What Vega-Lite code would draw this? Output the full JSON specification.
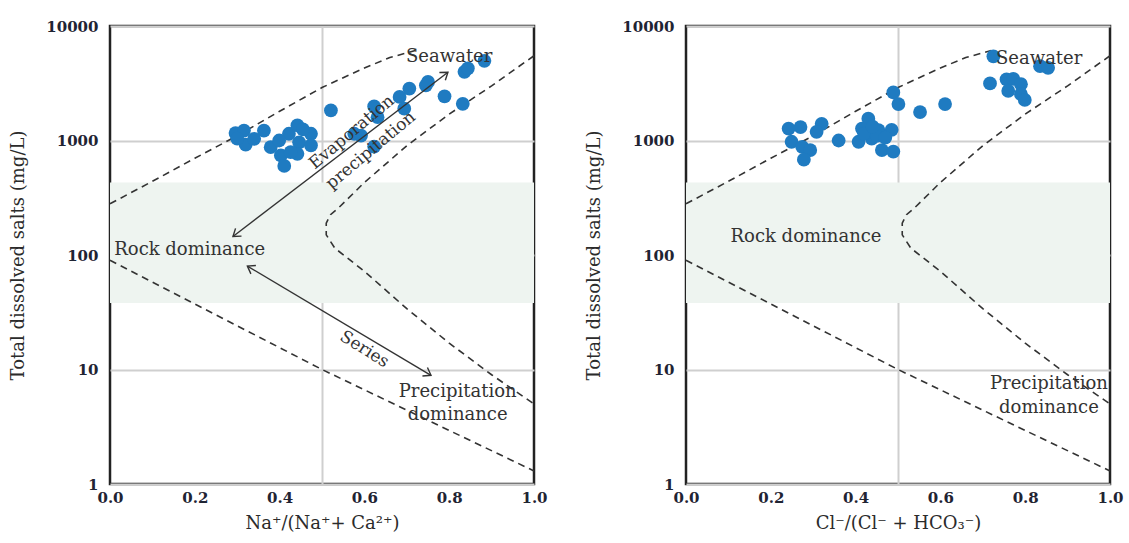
{
  "$schema": "https://vega.github.io/schema/vega-lite/v6.json",
  "background": "white",
  "padding": {"left": 8, "top": 17, "right": 5, "bottom": 5},
  "spacing": 152,
  "bounds": "flush",
  "config": {
    "font": "DejaVu Serif",
    "view": {"stroke": "#222222", "strokeWidth": 2.5},
    "axis": {
      "ticks": false,
      "domain": false,
      "grid": true,
      "gridColor": "#cfcfcf",
      "gridWidth": 2,
      "labelFont": "DejaVu Serif",
      "labelFontWeight": "bold",
      "labelFontSize": 15,
      "labelColor": "#1f2433",
      "titleFont": "DejaVu Serif",
      "titleFontWeight": "normal",
      "titleFontSize": 18,
      "titleColor": "#2b2b2b",
      "labelOverlap": false,
      "labelFlush": false
    },
    "axisX": {"labelPadding": 6, "titlePadding": 9},
    "axisY": {"labelPadding": 12, "titlePadding": 18}
  },
  "datasets": {
    "band": [{"x": 0, "x2": 1, "y": 38, "y2": 430}],
    "bound": [
      {"seg": "L", "i": 0, "x": 0.0, "y": 280},
      {"seg": "L", "i": 1, "x": 0.1, "y": 440},
      {"seg": "L", "i": 2, "x": 0.2, "y": 700},
      {"seg": "L", "i": 3, "x": 0.3, "y": 1100},
      {"seg": "L", "i": 4, "x": 0.4, "y": 1800},
      {"seg": "L", "i": 5, "x": 0.5, "y": 2900},
      {"seg": "L", "i": 6, "x": 0.6, "y": 4300},
      {"seg": "L", "i": 7, "x": 0.66, "y": 5300},
      {"seg": "L", "i": 8, "x": 0.72, "y": 6100},
      {"seg": "R", "i": 0, "x": 1.0, "y": 5500},
      {"seg": "R", "i": 1, "x": 0.9, "y": 3000},
      {"seg": "R", "i": 2, "x": 0.8, "y": 1700},
      {"seg": "R", "i": 3, "x": 0.7, "y": 900},
      {"seg": "R", "i": 4, "x": 0.6, "y": 430},
      {"seg": "R", "i": 5, "x": 0.54, "y": 260},
      {"seg": "R", "i": 6, "x": 0.52, "y": 225},
      {"seg": "R", "i": 7, "x": 0.51, "y": 190},
      {"seg": "R", "i": 8, "x": 0.51, "y": 150},
      {"seg": "R", "i": 9, "x": 0.53, "y": 115},
      {"seg": "R", "i": 10, "x": 0.6, "y": 72},
      {"seg": "R", "i": 11, "x": 0.7, "y": 34},
      {"seg": "R", "i": 12, "x": 0.8, "y": 17},
      {"seg": "R", "i": 13, "x": 0.9, "y": 9},
      {"seg": "R", "i": 14, "x": 1.0, "y": 5},
      {"seg": "B", "i": 0, "x": 0.0, "y": 90},
      {"seg": "B", "i": 1, "x": 0.25, "y": 30},
      {"seg": "B", "i": 2, "x": 0.5, "y": 10},
      {"seg": "B", "i": 3, "x": 0.75, "y": 3.6},
      {"seg": "B", "i": 4, "x": 1.0, "y": 1.3}
    ],
    "ptsL": [
      {"x": 0.296, "y": 1160}, {"x": 0.316, "y": 1220}, {"x": 0.32, "y": 920},
      {"x": 0.30, "y": 1040}, {"x": 0.363, "y": 1220}, {"x": 0.34, "y": 1035},
      {"x": 0.379, "y": 875}, {"x": 0.403, "y": 740}, {"x": 0.411, "y": 600},
      {"x": 0.422, "y": 1145}, {"x": 0.442, "y": 1355}, {"x": 0.446, "y": 965},
      {"x": 0.442, "y": 765}, {"x": 0.474, "y": 1145}, {"x": 0.474, "y": 905},
      {"x": 0.426, "y": 790}, {"x": 0.399, "y": 1000}, {"x": 0.455, "y": 1250},
      {"x": 0.521, "y": 1830}, {"x": 0.576, "y": 1145}, {"x": 0.592, "y": 1105},
      {"x": 0.623, "y": 1985}, {"x": 0.631, "y": 1600}, {"x": 0.623, "y": 885},
      {"x": 0.683, "y": 2400}, {"x": 0.706, "y": 2840}, {"x": 0.745, "y": 3030},
      {"x": 0.75, "y": 3250}, {"x": 0.694, "y": 1895}, {"x": 0.789, "y": 2430},
      {"x": 0.832, "y": 2090}, {"x": 0.836, "y": 3980}, {"x": 0.844, "y": 4270},
      {"x": 0.883, "y": 4970}
    ],
    "ptsR": [
      {"x": 0.725, "y": 5430}, {"x": 0.835, "y": 4460}, {"x": 0.854, "y": 4310},
      {"x": 0.717, "y": 3150}, {"x": 0.756, "y": 3420}, {"x": 0.772, "y": 3450},
      {"x": 0.79, "y": 3100}, {"x": 0.76, "y": 2710}, {"x": 0.79, "y": 2540},
      {"x": 0.799, "y": 2260}, {"x": 0.489, "y": 2630}, {"x": 0.501, "y": 2080},
      {"x": 0.552, "y": 1770}, {"x": 0.611, "y": 2080}, {"x": 0.43, "y": 1550},
      {"x": 0.415, "y": 1270}, {"x": 0.454, "y": 1230}, {"x": 0.485, "y": 1240},
      {"x": 0.407, "y": 975}, {"x": 0.438, "y": 1040}, {"x": 0.462, "y": 825},
      {"x": 0.489, "y": 800}, {"x": 0.36, "y": 1000}, {"x": 0.32, "y": 1400},
      {"x": 0.308, "y": 1190}, {"x": 0.27, "y": 1310}, {"x": 0.242, "y": 1270},
      {"x": 0.249, "y": 975}, {"x": 0.274, "y": 880}, {"x": 0.293, "y": 825},
      {"x": 0.278, "y": 680}, {"x": 0.42, "y": 1150}, {"x": 0.45, "y": 1100},
      {"x": 0.44, "y": 1320}, {"x": 0.47, "y": 1060}
    ],
    "textL": [
      {"kind": "c", "x": 0.80, "y": 5400, "label": "Seawater"},
      {"kind": "l", "x": 0.01, "y": 110, "label": "Rock dominance"},
      {"kind": "c", "x": 0.82, "y": 6.3, "label": "Precipitation"},
      {"kind": "c", "x": 0.82, "y": 4.0, "label": "dominance"},
      {"kind": "up", "x": 0.57, "y": 1180, "label": "Evaporation"},
      {"kind": "up", "x": 0.615, "y": 820, "label": "precipitation"},
      {"kind": "down", "x": 0.60, "y": 15, "label": "Series"}
    ],
    "textR": [
      {"kind": "c", "x": 0.833, "y": 5100, "label": "Seawater"},
      {"kind": "l", "x": 0.105, "y": 145, "label": "Rock dominance"},
      {"kind": "c", "x": 0.856, "y": 7.4, "label": "Precipitation"},
      {"kind": "c", "x": 0.856, "y": 4.6, "label": "dominance"}
    ],
    "arrows": [
      {"arrow": "A1", "end": "s", "x": 0.29, "y": 145},
      {"arrow": "A1", "end": "e", "x": 0.797, "y": 3950},
      {"arrow": "A2", "end": "s", "x": 0.324, "y": 80},
      {"arrow": "A2", "end": "e", "x": 0.757, "y": 8.9}
    ]
  },
  "hconcat": [
    {
      "width": 424,
      "height": 458,
      "encoding": {
        "x": {
          "field": "x", "type": "quantitative",
          "scale": {"domain": [0, 1], "nice": false, "zero": false},
          "axis": {
            "title": "Na⁺/(Na⁺+ Ca²⁺)",
            "values": [0, 0.2, 0.4, 0.5, 0.6, 0.8, 1],
            "labelExpr": "datum.value === 0.5 ? '' : format(datum.value, '.1f')",
            "gridOpacity": {"condition": {"test": "datum.value === 0.5", "value": 1}, "value": 0}
          }
        },
        "y": {
          "field": "y", "type": "quantitative",
          "scale": {"type": "log", "domain": [1, 10000], "nice": false},
          "axis": {"title": "Total dissolved salts (mg/L)", "values": [1, 10, 100, 1000, 10000], "format": "d"}
        }
      },
      "layer": [
        {
          "data": {"name": "band"},
          "mark": {"type": "rect", "color": "#eef4f0"},
          "encoding": {"x2": {"field": "x2"}, "y2": {"field": "y2"}}
        },
        {
          "data": {"name": "bound"},
          "mark": {"type": "line", "color": "#333333", "strokeWidth": 1.6, "strokeDash": [7, 5]},
          "encoding": {"detail": {"field": "seg"}, "order": {"field": "i", "type": "quantitative"}}
        },
        {
          "data": {"name": "ptsL"},
          "mark": {"type": "circle", "size": 190, "color": "#1f7bc1", "opacity": 1}
        },
        {
          "data": {"name": "arrows"},
          "mark": {"type": "line", "color": "#333333", "strokeWidth": 1.4},
          "encoding": {"detail": {"field": "arrow"}}
        },
        {
          "data": {"name": "arrows"},
          "transform": [{"filter": "datum.arrow === 'A1' && datum.end === 'e'"}],
          "mark": {"type": "point", "shape": "M -0.7 1 L 0 0 L 0.7 1", "size": 196, "filled": false, "color": "#333333", "strokeWidth": 1.4, "angle": 52.6, "opacity": 1}
        },
        {
          "data": {"name": "arrows"},
          "transform": [{"filter": "datum.arrow === 'A1' && datum.end === 's'"}],
          "mark": {"type": "point", "shape": "M -0.7 1 L 0 0 L 0.7 1", "size": 196, "filled": false, "color": "#333333", "strokeWidth": 1.4, "angle": 232.6, "opacity": 1}
        },
        {
          "data": {"name": "arrows"},
          "transform": [{"filter": "datum.arrow === 'A2' && datum.end === 'e'"}],
          "mark": {"type": "point", "shape": "M -0.7 1 L 0 0 L 0.7 1", "size": 196, "filled": false, "color": "#333333", "strokeWidth": 1.4, "angle": 120.7, "opacity": 1}
        },
        {
          "data": {"name": "arrows"},
          "transform": [{"filter": "datum.arrow === 'A2' && datum.end === 's'"}],
          "mark": {"type": "point", "shape": "M -0.7 1 L 0 0 L 0.7 1", "size": 196, "filled": false, "color": "#333333", "strokeWidth": 1.4, "angle": 300.7, "opacity": 1}
        },
        {
          "data": {"name": "textL"},
          "transform": [{"filter": "datum.kind === 'c'"}],
          "mark": {"type": "text", "font": "DejaVu Serif", "fontSize": 18, "color": "#333333", "align": "center", "baseline": "middle"},
          "encoding": {"text": {"field": "label"}}
        },
        {
          "data": {"name": "textL"},
          "transform": [{"filter": "datum.kind === 'l'"}],
          "mark": {"type": "text", "font": "DejaVu Serif", "fontSize": 18, "color": "#333333", "align": "left", "baseline": "middle"},
          "encoding": {"text": {"field": "label"}}
        },
        {
          "data": {"name": "textL"},
          "transform": [{"filter": "datum.kind === 'up'"}],
          "mark": {"type": "text", "font": "DejaVu Serif", "fontSize": 17, "color": "#333333", "align": "center", "baseline": "middle", "angle": 320},
          "encoding": {"text": {"field": "label"}}
        },
        {
          "data": {"name": "textL"},
          "transform": [{"filter": "datum.kind === 'down'"}],
          "mark": {"type": "text", "font": "DejaVu Serif", "fontSize": 17, "color": "#333333", "align": "center", "baseline": "middle", "angle": 32},
          "encoding": {"text": {"field": "label"}}
        }
      ]
    },
    {
      "width": 424,
      "height": 458,
      "encoding": {
        "x": {
          "field": "x", "type": "quantitative",
          "scale": {"domain": [0, 1], "nice": false, "zero": false},
          "axis": {
            "title": "Cl⁻/(Cl⁻ + HCO₃⁻)",
            "values": [0, 0.2, 0.4, 0.5, 0.6, 0.8, 1],
            "labelExpr": "datum.value === 0.5 ? '' : format(datum.value, '.1f')",
            "gridOpacity": {"condition": {"test": "datum.value === 0.5", "value": 1}, "value": 0}
          }
        },
        "y": {
          "field": "y", "type": "quantitative",
          "scale": {"type": "log", "domain": [1, 10000], "nice": false},
          "axis": {"title": "Total dissolved salts (mg/L)", "values": [1, 10, 100, 1000, 10000], "format": "d"}
        }
      },
      "layer": [
        {
          "data": {"name": "band"},
          "mark": {"type": "rect", "color": "#eef4f0"},
          "encoding": {"x2": {"field": "x2"}, "y2": {"field": "y2"}}
        },
        {
          "data": {"name": "bound"},
          "mark": {"type": "line", "color": "#333333", "strokeWidth": 1.6, "strokeDash": [7, 5]},
          "encoding": {"detail": {"field": "seg"}, "order": {"field": "i", "type": "quantitative"}}
        },
        {
          "data": {"name": "ptsR"},
          "mark": {"type": "circle", "size": 190, "color": "#1f7bc1", "opacity": 1}
        },
        {
          "data": {"name": "textR"},
          "transform": [{"filter": "datum.kind === 'c'"}],
          "mark": {"type": "text", "font": "DejaVu Serif", "fontSize": 18, "color": "#333333", "align": "center", "baseline": "middle"},
          "encoding": {"text": {"field": "label"}}
        },
        {
          "data": {"name": "textR"},
          "transform": [{"filter": "datum.kind === 'l'"}],
          "mark": {"type": "text", "font": "DejaVu Serif", "fontSize": 18, "color": "#333333", "align": "left", "baseline": "middle"},
          "encoding": {"text": {"field": "label"}}
        }
      ]
    }
  ]
}
